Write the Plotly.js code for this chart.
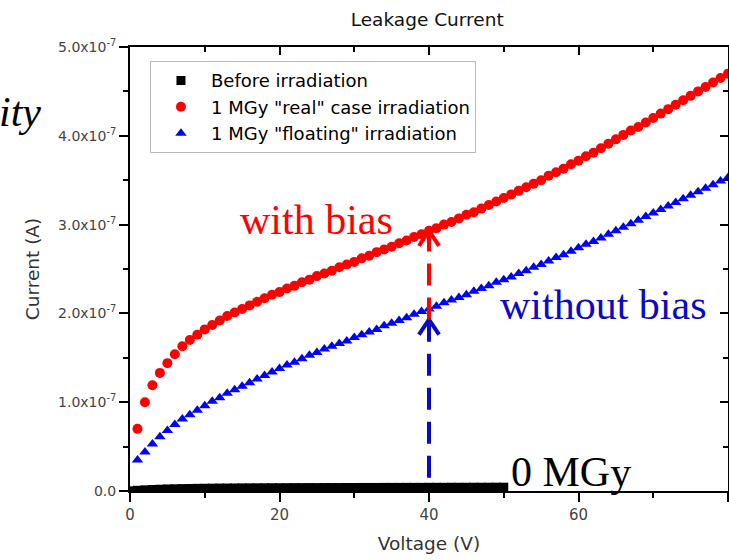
<!DOCTYPE html>
<html>
<head>
<meta charset="utf-8">
<script src="https://cdn.plot.ly/plotly-3.0.1.min.js"></script>
<style>html,body{margin:0;padding:0;background:#fff;}#chart{width:729px;height:560px;}</style>
</head>
<body>
<div id="chart"></div>
<script>
// ---- data (current values for irradiated samples in units of 1e-7 A, before in 1e-9 A) ----
const seriesNames = ['Before irradiation', '1 MGy "real" case irradiation', '1 MGy "floating" irradiation'];

const voltageBefore = [0,1,2,3,4,5,6,7,8,9,10,11,12,13,14,15,16,17,18,19,20,21,22,23,24,25,26,27,28,29,30,31,32,33,34,35,36,37,38,39,40,41,42,43,44,45,46,47,48,49,50];
const currentBefore_e9 = [0.2,0.8,1.3,1.7,2.0,2.3,2.5,2.7,2.8,3.0,3.1,3.2,3.3,3.35,3.4,3.5,3.55,3.6,3.65,3.7,3.7,3.75,3.8,3.8,3.85,3.85,3.9,3.9,3.9,3.95,3.95,4.0,4.0,4.0,4.05,4.05,4.05,4.1,4.1,4.1,4.15,4.15,4.15,4.2,4.2,4.2,4.25,4.25,4.25,4.3,4.3];

const voltageIrr = [1,2,3,4,5,6,7,8,9,10,11,12,13,14,15,16,17,18,19,20,21,22,23,24,25,26,27,28,29,30,31,32,33,34,35,36,37,38,39,40,41,42,43,44,45,46,47,48,49,50,51,52,53,54,55,56,57,58,59,60,61,62,63,64,65,66,67,68,69,70,71,72,73,74,75,76,77,78,79,80];
const currentReal_e7 = [0.70,1.00,1.19,1.33,1.44,1.54,1.63,1.70,1.76,1.82,1.87,1.92,1.97,2.01,2.05,2.09,2.13,2.17,2.21,2.24,2.28,2.31,2.35,2.38,2.42,2.45,2.48,2.52,2.55,2.58,2.62,2.65,2.69,2.72,2.75,2.79,2.82,2.86,2.89,2.93,2.96,3.00,3.03,3.07,3.11,3.14,3.18,3.22,3.26,3.30,3.34,3.38,3.42,3.46,3.50,3.55,3.59,3.63,3.68,3.72,3.77,3.81,3.86,3.91,3.96,4.01,4.06,4.10,4.15,4.20,4.25,4.30,4.35,4.40,4.45,4.50,4.55,4.60,4.65,4.70];
const currentFloating_e7 = [0.35,0.44,0.53,0.61,0.68,0.75,0.81,0.86,0.91,0.96,1.01,1.05,1.10,1.14,1.18,1.22,1.26,1.30,1.34,1.38,1.42,1.45,1.49,1.53,1.56,1.60,1.63,1.66,1.69,1.73,1.76,1.79,1.82,1.86,1.89,1.92,1.95,1.99,2.02,2.05,2.08,2.12,2.15,2.18,2.21,2.25,2.28,2.31,2.35,2.38,2.41,2.45,2.48,2.52,2.55,2.59,2.63,2.66,2.70,2.74,2.78,2.81,2.85,2.89,2.93,2.97,3.01,3.05,3.09,3.13,3.17,3.21,3.25,3.29,3.33,3.37,3.41,3.45,3.49,3.53];

const xTickVals = [0,20,40,60,80];
const xTickText = ['0','20','40','60','80'];
const yTickVals_e7 = [0,1,2,3,4,5];
const yTickText = ['0.0','1.0x10<sup>-7</sup>','2.0x10<sup>-7</sup>','3.0x10<sup>-7</sup>','4.0x10<sup>-7</sup>','5.0x10<sup>-7</sup>'];

const arrowVoltage = 40;

// ---- build ----
const E7 = 1e-7, E9 = 1e-9;
const yBefore = currentBefore_e9.map(v => v * E9);
const yReal = currentReal_e7.map(v => v * E7);
const yFloat = currentFloating_e7.map(v => v * E7);
const yTickVals = yTickVals_e7.map(v => v * E7);

const iArrow = voltageIrr.indexOf(arrowVoltage);
const redTip = currentReal_e7[iArrow];
const blueTip = currentFloating_e7[iArrow] - 0.12;

const SANS = 'DejaVu Sans, Liberation Sans, Arial, sans-serif';
const SERIF = 'Liberation Serif, Times New Roman, serif';

const traces = [
  {x: voltageBefore, y: yBefore, name: seriesNames[0], type: 'scatter', mode: 'markers',
   marker: {symbol: 'square', size: 9, color: '#000000'}, legendgroup: 'a'},
  {x: voltageIrr, y: yReal, name: seriesNames[1], type: 'scatter', mode: 'markers',
   marker: {symbol: 'circle', size: 10, color: '#ff0000'}, legendgroup: 'b'},
  {x: voltageIrr, y: yFloat, name: seriesNames[2], type: 'scatter', mode: 'markers',
   marker: {symbol: 'triangle-up', size: 10, color: '#0000ff'}, legendgroup: 'c'},
  {x: [], y: [], xaxis: 'x2', yaxis: 'y2', showlegend: false, hoverinfo: 'skip', type: 'scatter', mode: 'markers'}
];

const red = '#ff0000', darkBlue = '#0a0ac4';
const chevDx = 1.35, chevDy = 0.17;
function chevron(tip, color) {
  return [
    {type: 'line', xref: 'x', yref: 'y', x0: arrowVoltage - chevDx, y0: (tip - chevDy) * E7, x1: arrowVoltage, y1: tip * E7,
     line: {color: color, width: 4}, layer: 'above'},
    {type: 'line', xref: 'x', yref: 'y', x0: arrowVoltage + chevDx, y0: (tip - chevDy) * E7, x1: arrowVoltage, y1: tip * E7,
     line: {color: color, width: 4}, layer: 'above'}
  ];
}
const shapes = [
  {type: 'line', xref: 'x', yref: 'y', x0: arrowVoltage, x1: arrowVoltage, y0: 0.15 * E7, y1: (blueTip - 0.04) * E7,
   line: {color: darkBlue, width: 4, dash: '22px,12px'}, layer: 'above'},
  {type: 'line', xref: 'x', yref: 'y', x0: arrowVoltage, x1: arrowVoltage, y0: blueTip * E7, y1: (redTip - 0.05) * E7,
   line: {color: red, width: 4, dash: '22px,12px'}, layer: 'above'},
  ...chevron(blueTip, darkBlue),
  ...chevron(redTip, red)
];

const annotations = [
  {text: 'with bias', xref: 'x', yref: 'y', x: 24.9, y: 3.055 * E7, showarrow: false,
   font: {family: SERIF, size: 42, color: red}},
  {text: 'without bias', xref: 'x', yref: 'y', x: 63.3, y: 2.09 * E7, showarrow: false,
   font: {family: SERIF, size: 42, color: darkBlue}},
  {text: '0 MGy', xref: 'x', yref: 'y', x: 59.0, y: 0.21 * E7, showarrow: false,
   font: {family: SERIF, size: 42, color: '#000000'}},
  {text: '<i>ity</i>', xref: 'paper', yref: 'paper', x: -0.145, xanchor: 'right', y: 0.911, showarrow: false,
   font: {family: SERIF, size: 42, color: '#000000'}}
];

const axisCommon = {showgrid: false, zeroline: false, showline: true, linecolor: '#000', linewidth: 2,
  tickcolor: '#000', tickwidth: 2};

const layout = {
  width: 729, height: 560,
  margin: {l: 130, r: 1, t: 47, b: 69, pad: 0},
  paper_bgcolor: '#ffffff', plot_bgcolor: '#ffffff',
  font: {family: SANS, color: '#333'},
  title: {text: 'Leakage Current', x: 0.586, xanchor: 'center', y: 0.966, yanchor: 'middle',
          font: {family: SANS, size: 18.5, color: '#111'}},
  showlegend: true,
  legend: {x: 0.0334, y: 0.968, xanchor: 'left', yanchor: 'top', bgcolor: '#ffffff',
           bordercolor: '#bbbbbb', borderwidth: 1, itemwidth: 50, traceorder: 'normal',
           font: {family: SANS, size: 18, color: '#000'}},
  xaxis: Object.assign({}, axisCommon, {
    range: [0, 80], tickmode: 'array', tickvals: xTickVals, ticktext: xTickText,
    ticks: 'outside', ticklen: 9, tickfont: {family: SANS, size: 15, color: '#444'},
    minor: {tickmode: 'linear', tick0: 0, dtick: 10, ticks: 'outside', ticklen: 5, tickwidth: 2, tickcolor: '#000'},
    title: {text: 'Voltage (V)', font: {family: SANS, size: 18.5, color: '#333'}, standoff: 14},
    automargin: false, fixedrange: true
  }),
  yaxis: Object.assign({}, axisCommon, {
    range: [0, 5e-7], tickmode: 'array', tickvals: yTickVals, ticktext: yTickText,
    ticks: 'outside', ticklen: 9, tickfont: {family: SANS, size: 14, color: '#444'},
    minor: {tickmode: 'linear', tick0: 0, dtick: 0.5e-7, ticks: 'outside', ticklen: 5, tickwidth: 2, tickcolor: '#000'},
    title: {text: 'Current (A)', font: {family: SANS, size: 18.5, color: '#333'}, standoff: 14},
    automargin: false, fixedrange: true
  }),
  xaxis2: Object.assign({}, axisCommon, {
    overlaying: 'x', side: 'top', anchor: 'y2', range: [0, 80], tickmode: 'array', tickvals: xTickVals,
    showticklabels: false, ticks: 'inside', ticklen: 8,
    minor: {tickmode: 'linear', tick0: 0, dtick: 10, ticks: 'inside', ticklen: 5, tickwidth: 2, tickcolor: '#000'},
    fixedrange: true
  }),
  yaxis2: Object.assign({}, axisCommon, {
    overlaying: 'y', side: 'right', anchor: 'x2', range: [0, 5e-7], tickmode: 'array', tickvals: yTickVals,
    showticklabels: false, ticks: 'inside', ticklen: 8,
    minor: {tickmode: 'linear', tick0: 0, dtick: 0.5e-7, ticks: 'inside', ticklen: 5, tickwidth: 2, tickcolor: '#000'},
    fixedrange: true
  }),
  shapes: shapes,
  annotations: annotations
};

Plotly.newPlot('chart', traces, layout, {displayModeBar: false, staticPlot: true});
</script>
</body>
</html>
